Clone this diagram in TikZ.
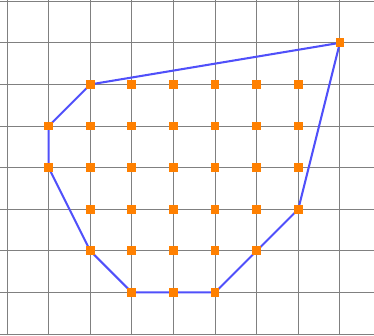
\documentclass[tikz,border=0pt]{standalone}
\usepackage{xcolor}
\usetikzlibrary{backgrounds}

\definecolor{hullblue}{RGB}{80,80,250}
\definecolor{ptorange}{RGB}{255,128,0}

\begin{document}
\begin{tikzpicture}[
  gridline/.style={draw=gray, line width=0.6pt},
  hull/.style={draw=hullblue, line width=1.4pt, line join=round},
  pt/.style={fill=ptorange, draw=none, minimum size=6pt, inner sep=0pt}
]
\useasboundingbox (-0.17,-0.03) rectangle (8.82,8.03);

% lattice points, row by row
\foreach \y/\xa/\xb in {7/8/8, 6/2/7, 5/1/7, 4/1/7, 3/2/7, 2/2/6, 1/3/5}
  \foreach \x in {\xa,...,\xb}
    \node[pt] (p-\x-\y) at (\x,\y) {};

\begin{scope}[on background layer]
  \foreach \i in {0,...,8} {
    \draw[gridline] (\i,-0.03) -- (\i,8.03);
    \draw[gridline] (-0.17,\i) -- (8.82,\i);
  }
  \draw[hull] (p-8-7.center) -- (p-2-6.center) -- (p-1-5.center) -- (p-1-4.center)
    -- (p-2-2.center) -- (p-3-1.center) -- (p-5-1.center) -- (p-6-2.center)
    -- (p-7-3.center) -- cycle;
\end{scope}
\end{tikzpicture}
\end{document}
